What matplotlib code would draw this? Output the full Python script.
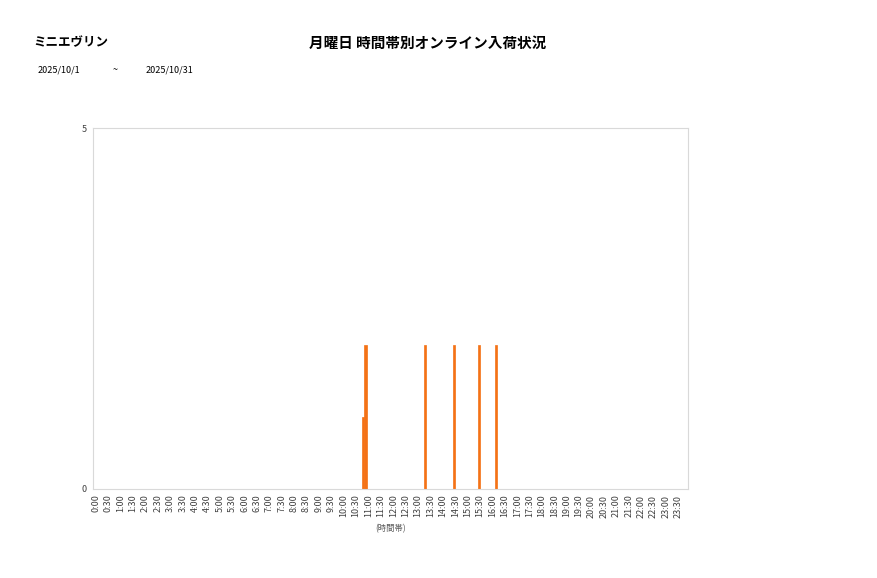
import matplotlib
matplotlib.use("Agg")
import matplotlib.pyplot as plt
import numpy as np

plt.rcParams['font.family'] = ['Noto Sans CJK JP', 'DejaVu Sans']

# 5-minute slots over the day
slot_minutes = 5
n_slots = 24 * 60 // slot_minutes
slot_labels = [f"{(i*slot_minutes)//60}:{(i*slot_minutes)%60:02d}" for i in range(n_slots)]

# arrivals (time -> count)
arrival_times = ["10:50", "10:55", "13:20", "14:30", "15:30", "16:10"]
arrival_counts = [1, 2, 2, 2, 2, 2]

values = np.zeros(n_slots)
for t, c in zip(arrival_times, arrival_counts):
    values[slot_labels.index(t)] = c

tick_every = 6  # label every 30 minutes

fig = plt.figure(figsize=(8.77, 5.78), dpi=100)
ax = fig.add_axes([0.1064, 0.154, 0.6781, 0.6245])

x = np.arange(n_slots)
ax.bar(x + 0.3, values, width=1.0, color='#F47216', edgecolor='#F47216', linewidth=0.5)

ax.set_xlim(-0.5, n_slots - 0.5)
ax.set_ylim(0, 5)
ax.set_yticks([0, 5])
ax.set_yticklabels(['0', '5'], fontsize=6.5, color='#404040')
ax.set_xticks(x[::tick_every] + 0.8)
ax.set_xticklabels(slot_labels[::tick_every], rotation=90, fontsize=6.5, color='#404040')
ax.tick_params(axis='both', length=0, pad=4)
ax.tick_params(axis='y', pad=5)
for s in ax.spines.values():
    s.set_color('#D9D9D9')
    s.set_linewidth(0.8)

ax.set_xlabel('(時間帯)', fontsize=6, color='#595959', labelpad=5)

fig.text(33/877, 1 - 43/578, 'ミニエヴリン', fontsize=9, fontweight='bold', va='center', ha='left', color='#000000')
fig.text(428/877, 1 - 43/578, '月曜日 時間帯別オンライン入荷状況', fontsize=10.5, fontweight='bold', va='center', ha='center', color='#000000')
fig.text(38/877, 1 - 70/578, '2025/10/1', fontsize=6.5, va='center', ha='left', color='#000000')
fig.text(115/877, 1 - 70/578, '~', fontsize=6.5, va='center', ha='center', color='#000000')
fig.text(146/877, 1 - 70/578, '2025/10/31', fontsize=6.5, va='center', ha='left', color='#000000')

fig.savefig('out.png', dpi=100)
